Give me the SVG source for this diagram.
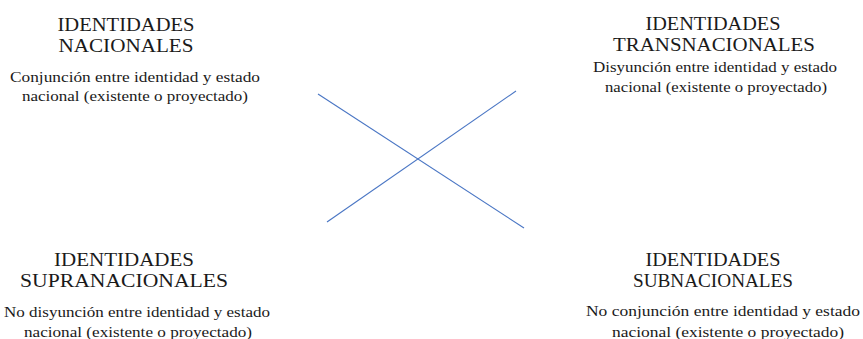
<svg xmlns="http://www.w3.org/2000/svg" width="863" height="339" viewBox="0 0 863 339">
<style>
.t{font-family:'Liberation Serif','DejaVu Serif','Times New Roman',serif;font-size:19px;fill:#1a1a1a;text-anchor:middle}
.s{font-family:'Liberation Serif','DejaVu Serif','Times New Roman',serif;font-size:14px;fill:#1a1a1a;text-anchor:middle}
.c{stroke:#4a76c4;stroke-width:1.1;fill:none}
</style>
<rect width="863" height="339" fill="#ffffff"/>
<g id="nacionales">
<text class="t" x="126" y="30.7" textLength="137" lengthAdjust="spacingAndGlyphs">IDENTIDADES</text>
<text class="t" x="126" y="51.7" textLength="135" lengthAdjust="spacingAndGlyphs">NACIONALES</text>
<text class="s" x="135" y="81.7" textLength="250" lengthAdjust="spacingAndGlyphs">Conjunción entre identidad y estado</text>
<text class="s" x="135" y="100.5" textLength="226" lengthAdjust="spacingAndGlyphs">nacional (existente o proyectado)</text>
</g>
<g id="transnacionales">
<text class="t" x="713" y="30" textLength="135" lengthAdjust="spacingAndGlyphs">IDENTIDADES</text>
<text class="t" x="714" y="50.7" textLength="202" lengthAdjust="spacingAndGlyphs">TRANSNACIONALES</text>
<text class="s" x="715" y="71.5" textLength="244" lengthAdjust="spacingAndGlyphs">Disyunción entre identidad y estado</text>
<text class="s" x="716" y="92" textLength="222" lengthAdjust="spacingAndGlyphs">nacional (existente o proyectado)</text>
</g>
<g id="supranacionales">
<text class="t" x="124" y="265.7" textLength="140" lengthAdjust="spacingAndGlyphs">IDENTIDADES</text>
<text class="t" x="124" y="286.7" textLength="208" lengthAdjust="spacingAndGlyphs">SUPRANACIONALES</text>
<text class="s" x="137" y="316.7" textLength="266" lengthAdjust="spacingAndGlyphs">No disyunción entre identidad y estado</text>
<text class="s" x="138" y="336.5" textLength="228" lengthAdjust="spacingAndGlyphs">nacional (existente o proyectado)</text>
</g>
<g id="subnacionales">
<text class="t" x="713" y="265.7" textLength="135" lengthAdjust="spacingAndGlyphs">IDENTIDADES</text>
<text class="t" x="713" y="286.7" textLength="160" lengthAdjust="spacingAndGlyphs">SUBNACIONALES</text>
<text class="s" x="723" y="315.7" textLength="274" lengthAdjust="spacingAndGlyphs">No conjunción entre identidad y estado</text>
<text class="s" x="728" y="336.5" textLength="232" lengthAdjust="spacingAndGlyphs">nacional (existente o proyectado)</text>
</g>
<g id="connectors">
<line class="c" x1="318" y1="94" x2="524" y2="228"/>
<line class="c" x1="327" y1="222" x2="516" y2="91"/>
</g>
</svg>
